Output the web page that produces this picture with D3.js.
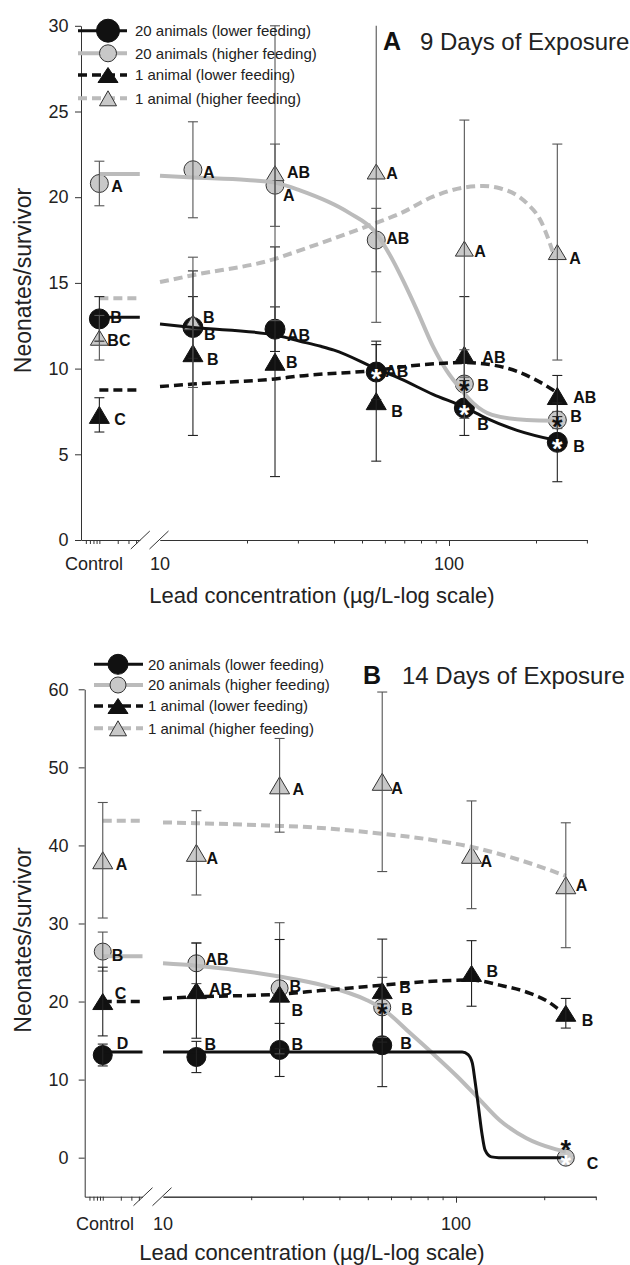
<!DOCTYPE html>
<html><head><meta charset="utf-8">
<script src="https://cdn.jsdelivr.net/npm/d3@7"></script>
<style>body{margin:0;background:#fff} svg{display:block}</style>
</head><body><svg id="c" width="630" height="1265"></svg>
<script>
// ---------------- DATA ----------------
const seriesNames = ["20 animals (lower feeding)", "20 animals (higher feeding)", "1 animal (lower feeding)", "1 animal (higher feeding)"];
const concentrations = [13, 25, 56, 113, 237];   // µg/L (first point of each series is the Control)
const controlValue = 1;
const xTickLabels = ["Control", "10", "100"];
const ctrlMinorTicks = [0.6, 0.7, 0.8, 0.9, 1, 2, 3, 4];
const mainMinorTicks = [20, 30, 40, 50, 60, 70, 80, 90, 200, 300];
const mainMajorTicks = [100];
const yTicks9 = [0, 5, 10, 15, 20, 25, 30];
const yTicks14 = [0, 10, 20, 30, 40, 50, 60];

// Panel A: 9 days  (Control, 13, 25, 56, 113, 237)
const d9Lower20 = [12.9, 12.4, 12.3, 9.8, 7.7, 5.7];
const d9Lower20Err = [1.3, 1.8, 1.3, 1.6, 1.6, 2.3];
const d9Lower20Let = ["B", "B", "AB", "AB", "B", "B"];
const d9Higher20 = [20.8, 21.6, 20.7, 17.5, 9.1, 7.0];
const d9Higher20Err = [1.3, 2.8, 2.4, 1.85, 2.0, 0.5];
const d9Higher20Let = ["A", "A", "A", "AB", "B", "B"];
const d9Lower1 = [7.3, 10.9, 10.4, 8.1, 10.8, 8.4];
const d9Lower1Err = [1.0, 4.8, 6.7, 3.5, 3.4, 1.2];
const d9Lower1Let = ["C", "B", "B", "B", "AB", "AB"];
const d9Higher1 = [11.8, 12.7, 21.4, 21.5, 17.0, 16.8];
const d9Higher1Err = [1.3, 3.8, 8.6, 8.8, 7.5, 6.3];
const d9Higher1Let = ["BC", "B", "AB", "A", "A", "A"];
const d9StarInside = [["", "", "", "w", "w", "w"], ["", "", "", "", "k", "k"], ["", "", "", "", "", ""], ["", "", "", "", "", ""]];
const d9StarAbove = [[0, 0, 0, 0, 0, 0], [0, 0, 0, 0, 0, 0], [0, 0, 0, 0, 0, 0], [0, 0, 0, 0, 0, 0]];

// fitted curves, panel A (control level, then [concentration, value])
const d9Lower20FitCtrl = 13.0;
const d9Lower20Fit = [[10, 12.6], [13, 12.4], [25, 11.96], [30.5, 11.6], [36, 11.3], [40, 11.08], [56, 10.0], [68, 9.4], [88, 8.5], [113, 7.75], [135, 7.1], [172, 6.4], [236, 5.8]];
const d9Higher20FitCtrl = 21.35;
const d9Higher20Fit = [[10, 21.25], [13, 21.15], [20, 21.0], [25, 20.85], [30.5, 20.4], [45, 19.1], [56, 17.9], [64, 16.3], [70, 15.0], [77.5, 13.4], [88, 11.3], [98, 9.9], [108, 8.95], [121, 8.0], [141, 7.3], [186, 7.0], [236, 6.96]];
const d9Lower1FitCtrl = 8.75;
const d9Lower1Fit = [[10, 8.95], [13, 9.1], [25, 9.4], [30.5, 9.57], [56, 9.9], [77.5, 10.2], [113, 10.35], [150, 10.13], [195, 9.43], [229, 8.75], [236, 8.6]];
const d9Higher1FitCtrl = 14.1;
const d9Higher1Fit = [[10, 15.05], [13, 15.45], [25, 16.4], [30.5, 16.9], [56, 18.5], [68, 19.06], [88, 20.03], [113, 20.57], [131, 20.65], [150, 20.52], [186, 19.64], [207, 18.67], [232, 16.5]];

// Panel B: 14 days
const d14Lower20 = [13.15, 12.9, 13.8, 14.4, null, null];
const d14Lower20Err = [1.4, 2.0, 3.4, 5.3, null, null];
const d14Lower20Let = ["D", "B", "B", "B", "", ""];
const d14Higher20 = [26.4, 24.9, 21.7, 19.25, null, 0];
const d14Higher20Err = [2.5, 2.6, 8.4, 3.85, null, null];
const d14Higher20Let = ["B", "AB", "B", "B", "", "C"];
const d14Lower1 = [20.0, 21.4, 20.95, 21.4, 23.6, 18.5];
const d14Lower1Err = [4.4, 6.1, 7.0, 6.6, 4.2, 1.9];
const d14Lower1Let = ["C", "AB", "B", "B", "B", "B"];
const d14Higher1 = [38.1, 39.05, 47.7, 48.15, 38.8, 34.9];
const d14Higher1Err = [7.4, 5.4, 6.0, 11.5, 6.9, 8.0];
const d14Higher1Let = ["A", "A", "A", "A", "A", "A"];
const d14StarInside = [["", "", "", "", "", ""], ["", "", "", "k", "", "w"], ["", "", "", "", "", ""], ["", "", "", "", "", ""]];
const d14StarAbove = [[0, 0, 0, 0, 0, 0], [0, 0, 0, 0, 0, 1], [0, 0, 0, 0, 0, 0], [0, 0, 0, 0, 0, 0]];

const d14Lower20FitCtrl = 13.55;
const d14Lower20Fit = [[10, 13.55], [56, 13.55], [105, 13.55], [110, 13.2], [113.7, 12.1], [116, 9.95], [119.3, 6.5], [122.6, 3.1], [125.6, 1.0], [132, 0.1], [140, 0], [237, 0]];
const d14Higher20FitCtrl = 25.8;
const d14Higher20Fit = [[10, 24.9], [13, 24.6], [25, 23.2], [35, 22.1], [49.5, 20.2], [56, 19.1], [70, 15.9], [83, 13.4], [101, 10.4], [118, 7.8], [141, 4.8], [174, 2.5], [214, 1.2], [237, 0.8]];
const d14Lower1FitCtrl = 20.0;
const d14Lower1Fit = [[10, 20.4], [13, 20.6], [25, 20.95], [34.4, 21.4], [56, 22.1], [83, 22.6], [113, 22.75], [141, 22.1], [179, 21.05], [206, 20.0], [226, 18.9], [237, 18.3]];
const d14Higher1FitCtrl = 43.15;
const d14Higher1Fit = [[10, 42.95], [13, 42.85], [25, 42.5], [29.4, 42.4], [56, 41.5], [83, 40.7], [113, 39.8], [166, 38.1], [237, 36.1]];

// ---------------- LAYOUT / STYLE ----------------
const FONT = '"Liberation Sans", Arial, Helvetica, sans-serif';
const styles = [
  {marker: "circle", fill: "#111", stroke: "#111", line: "#111", width: 3, dash: null, err: "#222"},
  {marker: "circle", fill: "#c8c8c8", stroke: "#333", line: "#bbbbbb", width: 4, dash: null, err: "#555"},
  {marker: "tri", fill: "#111", stroke: "#111", line: "#111", width: 3.5, dash: "9,5", err: "#222"},
  {marker: "tri", fill: "#c8c8c8", stroke: "#333", line: "#bbbbbb", width: 4, dash: "9,5", err: "#555"}
];

const panels = [
  {
    yDomain: [0, 30], yRange: [540, 25.8], yTicks: yTicks9, yAxisX: 81, tickPad: 6.5,
    ctrlRange: [81, 139.8], mainRange: [160, 586.9],
    values: [d9Lower20, d9Higher20, d9Lower1, d9Higher1],
    errs: [d9Lower20Err, d9Higher20Err, d9Lower1Err, d9Higher1Err],
    letters: [d9Lower20Let, d9Higher20Let, d9Lower1Let, d9Higher1Let],
    starIn: d9StarInside, starAbove: d9StarAbove,
    fitCtrl: [d9Lower20FitCtrl, d9Higher20FitCtrl, d9Lower1FitCtrl, d9Higher1FitCtrl],
    fits: [d9Lower20Fit, d9Higher20Fit, d9Lower1Fit, d9Higher1Fit],
    labelOffsets: [
      [[11, 4], [11, 13], [12, 12], [9, 5], [13, 22], [16, 10]],
      [[12, 9], [10, 8], [8, 16], [10, 4], [13, 7], [13, 2]],
      [[15, 10], [14, 12], [11, 6], [15, 16], [18, 8], [16, 7]],
      [[8, 8], [10, 1], [12, 5], [10, 8], [10, 8], [12, 12]]
    ],
    sizes: {rBlack: 10, rGray: 9, triBlack: [20, 17], triGray: [18, 15]},
    legend: {x0: 78, x1: 127, mx: 108, tx: 135, rows: [30.7, 53.3, 75, 98.3], rBlack: 11.5, rGray: 8.5, triBlack: [20, 15], triGray: [17, 15]},
    title: {letter: "A", text: "9 Days of Exposure", lx: 383, tx: 420, y: 50},
    ctrlLabelX: 94, tickLabelY: 570, xTitleX: 322, xTitleY: 603, yTitleY: 280.5
  },
  {
    yDomain: [-5, 60], yRange: [1196.7, 689.3], yTicks: yTicks14, yAxisX: 84.7, tickPad: 10.2,
    ctrlRange: [84.7, 142.5], mainRange: [163, 595.8],
    values: [d14Lower20, d14Higher20, d14Lower1, d14Higher1],
    errs: [d14Lower20Err, d14Higher20Err, d14Lower1Err, d14Higher1Err],
    letters: [d14Lower20Let, d14Higher20Let, d14Lower1Let, d14Higher1Let],
    starIn: d14StarInside, starAbove: d14StarAbove,
    fitCtrl: [d14Lower20FitCtrl, d14Higher20FitCtrl, d14Lower1FitCtrl, d14Higher1FitCtrl],
    fits: [d14Lower20Fit, d14Higher20Fit, d14Lower1Fit, d14Higher1Fit],
    labelOffsets: [
      [[14, -6], [8, -7], [12, 0], [18, 4], [0, 0], [0, 0]],
      [[9, 9], [9, 2], [10, 4], [19, 8], [0, 0], [21, 11]],
      [[12, -3], [12.6, 4], [12, 22], [17, 2], [15, 4], [16, 13]],
      [[13, 10], [10, 11], [13, 10], [9, 12], [9, 12], [10, 6]]
    ],
    sizes: {rBlack: 9.5, rGray: 8.5, triBlack: [20, 16], triGray: [20, 17]},
    legend: {x0: 94, x1: 143, mx: 118, tx: 148, rows: [664.3, 685, 706, 728.3], rBlack: 10, rGray: 8, triBlack: [20, 15], triGray: [17, 15]},
    title: {letter: "B", text: "14 Days of Exposure", lx: 363, tx: 402, y: 684},
    ctrlLabelX: 105, tickLabelY: 1230, xTitleX: 312, xTitleY: 1260, yTitleY: 940
  }
];

// ---------------- DRAW ----------------
const svg = d3.select("#c");
function tri(cx, cy, w, h) { return `M${cx},${cy - h / 2}L${cx + w / 2},${cy + h / 2}L${cx - w / 2},${cy + h / 2}Z`; }

function marker(g, s, cx, cy, sz) {
  const st = styles[s];
  if (st.marker === "circle") {
    g.append("circle").attr("cx", cx).attr("cy", cy).attr("r", s === 0 ? sz.rBlack : sz.rGray)
      .attr("fill", st.fill).attr("stroke", st.stroke).attr("stroke-width", 1);
  } else {
    const wh = s === 2 ? sz.triBlack : sz.triGray;
    g.append("path").attr("d", tri(cx, cy, wh[0], wh[1]))
      .attr("fill", st.fill).attr("stroke", st.stroke).attr("stroke-width", 1).attr("stroke-linejoin", "miter");
  }
}

function drawPanel(P) {
  const g = svg.append("g").style("font-family", FONT);
  const y = d3.scaleLinear(P.yDomain, P.yRange);
  const xc = d3.scaleLog([0.5, 4.6], P.ctrlRange);
  const xm = d3.scaleLog([10, 300], P.mainRange);
  const X = i => i === 0 ? xc(controlValue) : xm(concentrations[i - 1]);
  const axisY = P.yRange[0];

  // y axis
  const ya = g.append("g").attr("transform", `translate(${P.yAxisX},0)`)
    .call(d3.axisLeft(y).tickValues(P.yTicks).tickSize(6).tickSizeOuter(0).tickPadding(P.tickPad));
  ya.selectAll("text").style("font-size", "18px").attr("fill", "#222").style("font-family", FONT);
  ya.selectAll("path,line").attr("stroke", "#333");

  // x axes (control segment + main log segment)
  const xa1 = g.append("g").attr("transform", `translate(0,${axisY})`)
    .call(d3.axisBottom(xc).tickValues(ctrlMinorTicks).tickSize(4).tickSizeOuter(0).tickFormat(() => ""));
  const xa2 = g.append("g").attr("transform", `translate(0,${axisY})`)
    .call(d3.axisBottom(xm).tickValues(mainMinorTicks).tickSize(3.5).tickSizeOuter(0).tickFormat(() => ""));
  const xa3 = g.append("g").attr("transform", `translate(0,${axisY})`)
    .call(d3.axisBottom(xm).tickValues(mainMajorTicks).tickSize(6).tickSizeOuter(0).tickFormat(() => ""));
  [xa1, xa2, xa3].forEach(a => a.selectAll("path,line").attr("stroke", "#333"));
  // break marks
  [P.ctrlRange[1] + 0.5, P.mainRange[0] - 1].forEach(cx => {
    g.append("line").attr("x1", cx - 9.5).attr("y1", axisY + 9).attr("x2", cx + 9.5).attr("y2", axisY - 9)
      .attr("stroke", "#333").attr("stroke-width", 1);
  });
  // x tick labels
  const tl = [[P.ctrlLabelX, xTickLabels[0]], [xm(10), xTickLabels[1]], [xm(100), xTickLabels[2]]];
  tl.forEach(([x, t]) => g.append("text").attr("x", x).attr("y", P.tickLabelY).attr("text-anchor", "middle")
    .style("font-size", "18px").attr("fill", "#222").text(t));
  // axis titles
  g.append("text").attr("x", P.xTitleX).attr("y", P.xTitleY).attr("text-anchor", "middle")
    .style("font-size", "22px").attr("fill", "#222").text("Lead concentration (µg/L-log scale)");
  g.append("text").attr("transform", `translate(31,${P.yTitleY}) rotate(-90)`).attr("text-anchor", "middle")
    .style("font-size", "23px").attr("fill", "#222").text("Neonates/survivor");

  // markers (circles first, then triangles)
  [0, 1, 2, 3].forEach(s => {
    P.values[s].forEach((v, i) => { if (v != null) marker(g, s, X(i), y(v), P.sizes); });
  });

  // fitted curves
  const line = d3.line().x(d => xm(d[0])).y(d => y(d[1])).curve(d3.curveMonotoneX);
  [3, 1, 2, 0].forEach(s => {
    const st = styles[s];
    const apply = sel => sel.attr("fill", "none").attr("stroke", st.line).attr("stroke-width", st.width)
      .attr("stroke-dasharray", st.dash).attr("stroke-linecap", "butt");
    apply(g.append("path").attr("d", line(P.fits[s])));
    apply(g.append("line").attr("x1", xc(controlValue)).attr("x2", P.ctrlRange[1])
      .attr("y1", y(P.fitCtrl[s])).attr("y2", y(P.fitCtrl[s])));
  });

  // error bars
  const yMax = P.yDomain[1];
  [0, 1, 2, 3].forEach(s => {
    P.values[s].forEach((v, i) => {
      const e = P.errs[s][i];
      if (v == null || e == null) return;
      const cx = X(i);
      const hi = Math.min(v + e, yMax), lo = v - e;
      const col = styles[s].err;
      g.append("line").attr("x1", cx).attr("x2", cx).attr("y1", y(hi)).attr("y2", y(lo)).attr("stroke", col).attr("stroke-width", 1.1);
      if (v + e <= yMax) g.append("line").attr("x1", cx - 5).attr("x2", cx + 5).attr("y1", y(hi)).attr("y2", y(hi)).attr("stroke", col).attr("stroke-width", 1.1);
      g.append("line").attr("x1", cx - 5).attr("x2", cx + 5).attr("y1", y(lo)).attr("y2", y(lo)).attr("stroke", col).attr("stroke-width", 1.1);
    });
  });

  // asterisks (significance)
  [0, 1, 2, 3].forEach(s => {
    P.values[s].forEach((v, i) => {
      if (v == null) return;
      const cx = X(i), cy = y(v);
      const c = P.starIn[s][i];
      if (c) g.append("text").attr("x", cx).attr("y", cy + 16).attr("text-anchor", "middle")
        .style("font-size", "27px").style("font-weight", "bold").attr("fill", c === "w" ? "#fff" : "#111").text("*");
      if (P.starAbove[s][i]) g.append("text").attr("x", cx).attr("y", cy + 1).attr("text-anchor", "middle")
        .style("font-size", "27px").style("font-weight", "bold").attr("fill", "#111").text("*");
    });
  });

  // letters
  [0, 1, 2, 3].forEach(s => {
    P.values[s].forEach((v, i) => {
      const t = P.letters[s][i];
      if (v == null || !t) return;
      const o = P.labelOffsets[s][i];
      g.append("text").attr("x", X(i) + o[0]).attr("y", y(v) + o[1])
        .style("font-size", "16px").style("font-weight", "bold").attr("fill", "#111").text(t);
    });
  });

  // legend
  const L = P.legend;
  seriesNames.forEach((name, s) => {
    const st = styles[s], ry = L.rows[s];
    g.append("line").attr("x1", L.x0).attr("x2", L.x1).attr("y1", ry).attr("y2", ry)
      .attr("stroke", st.line).attr("stroke-width", st.width).attr("stroke-dasharray", st.dash);
    marker(g, s, L.mx, ry, {rBlack: L.rBlack, rGray: L.rGray, triBlack: L.triBlack, triGray: L.triGray});
    g.append("text").attr("x", L.tx).attr("y", ry).attr("dy", "0.35em").style("font-size", "15px")
      .attr("fill", "#222").text(name);
  });

  // title
  g.append("text").attr("x", P.title.lx).attr("y", P.title.y).style("font-size", "25px").style("font-weight", "bold")
    .attr("fill", "#111").text(P.title.letter);
  g.append("text").attr("x", P.title.tx).attr("y", P.title.y).style("font-size", "24px")
    .attr("fill", "#222").text(P.title.text);
}

panels.forEach(drawPanel);
</script>
</body></html>
